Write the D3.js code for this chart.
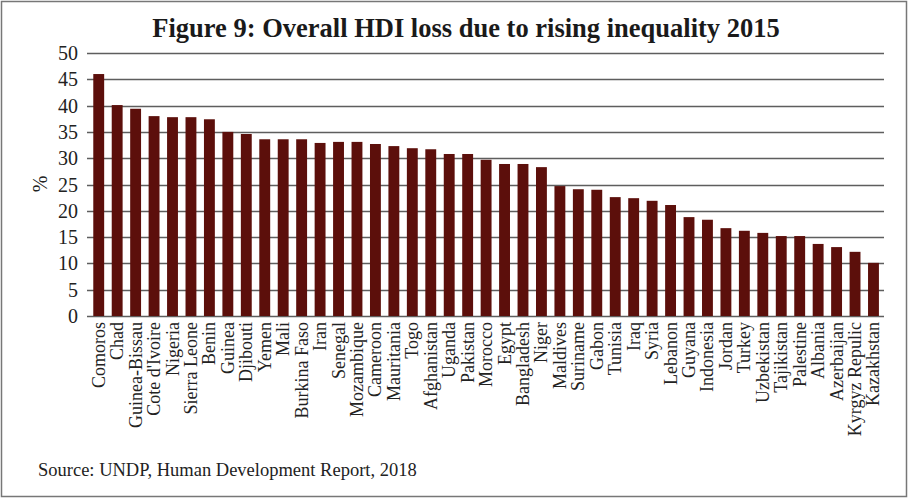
<!DOCTYPE html>
<html><head><meta charset="utf-8">
<script src="https://cdn.jsdelivr.net/npm/d3@7"></script>
<style>body{margin:0;background:#fff}svg{display:block}</style>
</head><body>
<svg id="c" width="909" height="499"></svg>
<script>
const countries = ["Comoros","Chad","Guinea-Bissau","Cote d'Ivoire","Nigeria","Sierra Leone","Benin","Guinea","Djibouti","Yemen","Mali","Burkina Faso","Iran","Senegal","Mozambique","Cameroon","Mauritania","Togo","Afghanistan","Uganda","Pakistan","Morocco","Egypt","Bangladesh","Niger","Maldives","Suriname","Gabon","Tunisia","Iraq","Syria","Lebanon","Guyana","Indonesia","Jordan","Turkey","Uzbekistan","Tajikistan","Palestine","Albania","Azerbaijan","Kyrgyz Repulic","Kazakhstan"];
const values = [46.0,40.1,39.4,38.0,37.8,37.8,37.4,35.0,34.6,33.6,33.6,33.6,32.9,33.1,33.1,32.7,32.3,31.9,31.7,30.8,30.8,29.7,28.9,28.9,28.3,24.7,24.1,24.0,22.6,22.4,21.9,21.1,18.8,18.3,16.7,16.2,15.8,15.2,15.2,13.7,13.1,12.2,10.1];
const yTicks = [0,5,10,15,20,25,30,35,40,45,50];
const title = "Figure 9: Overall HDI loss due to rising inequality 2015";
const source = "Source: UNDP, Human Development Report, 2018";

const svg = d3.select("#c");
const font = "'Liberation Serif','Times New Roman',serif";
svg.append("rect").attr("x",1.5).attr("y",1.5).attr("width",905).attr("height",495)
  .attr("fill","#fff").attr("stroke","#777").attr("stroke-width",1.5);

const x = d3.scaleBand().domain(countries).range([89.5, 882.7]).paddingInner(0.41).paddingOuter(0.205);
const y = d3.scaleLinear().domain([0,50]).range([316,53]);
const gx0 = 87, gx1 = 884;

svg.append("g").selectAll("line").data(yTicks).join("line")
  .attr("x1",gx0).attr("x2",gx1).attr("y1",d=>Math.round(y(d))+0.5).attr("y2",d=>Math.round(y(d))+0.5)
  .attr("stroke","#5e5e5e").attr("stroke-width",1.3);

svg.append("g").selectAll("rect").data(countries).join("rect")
  .attr("x",d=>x(d)).attr("width",x.bandwidth())
  .attr("y",(d,i)=>y(values[i])).attr("height",(d,i)=>y(0)-y(values[i]))
  .attr("fill","#5c0f0b");

svg.append("g").selectAll("text").data(yTicks).join("text")
  .attr("x",78).attr("y",d=>y(d)).attr("dy","0.35em").attr("text-anchor","end")
  .style("font-family",font).style("font-size","20px").attr("fill","#222").text(d=>d);

svg.append("text").attr("transform","translate(47,184) rotate(-90)").attr("text-anchor","middle")
  .style("font-family",font).style("font-size","20px").attr("fill","#222").text("%");

svg.append("g").selectAll("text").data(countries).join("text")
  .attr("transform",d=>`translate(${x(d)+x.bandwidth()/2+6},322) rotate(-90)`)
  .attr("text-anchor","end")
  .style("font-family",font).style("font-size","18px").attr("fill","#222").text(d=>d);

svg.append("text").attr("x",466).attr("y",37).attr("text-anchor","middle")
  .style("font-family",font).style("font-size","26.5px").style("font-weight","bold").attr("fill","#1a1a1a").text(title);

svg.append("text").attr("x",38).attr("y",476)
  .style("font-family",font).style("font-size","18.5px").attr("fill","#222").text(source);
</script>
</body></html>
